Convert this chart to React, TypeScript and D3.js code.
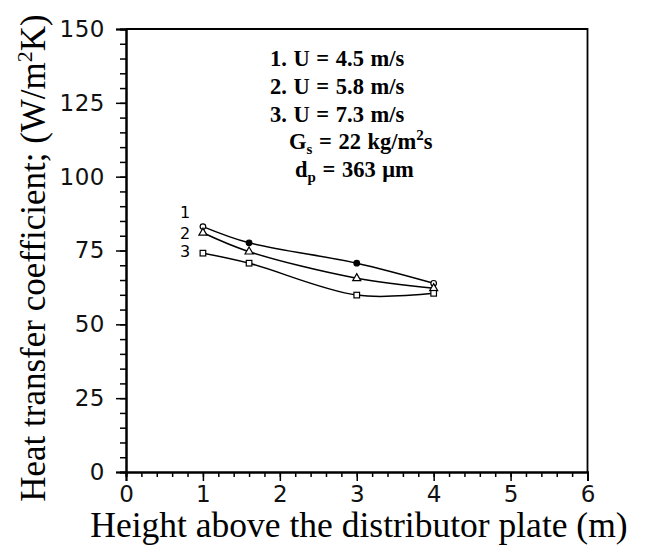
import React, { useEffect, useRef } from 'react';
import * as d3 from 'd3';

// heights above distributor plate (m)
const heights = [1, 1.6, 3, 4];
// heat transfer coefficient (W/m2K) per superficial velocity
const series1 = [83.1, 77.6, 70.7, 63.9];
const series2 = [81.0, 74.6, 65.6, 62.2];
const series3 = [74.1, 70.7, 59.9, 60.5];
const seriesNames = ['1', '2', '3'];
const markers = ['dot', 'triangle', 'square'];

const xTicks = [0, 1, 2, 3, 4, 5, 6];
const yTicks = [0, 25, 50, 75, 100, 125, 150];

const W = 645;
const H = 549;
const m = { left: 126, right: 57.5, top: 29, bottom: 77 };

const App = () => {
  const ref = useRef<SVGSVGElement>(null);

  useEffect(() => {
    const svg = d3.select(ref.current);
    svg.selectAll('*').remove();

    const x = d3.scaleLinear().domain([0, 6]).range([m.left, W - m.right]);
    const y = d3.scaleLinear().domain([0, 150]).range([H - m.bottom, m.top]);
    const sans = 'DejaVu Sans, sans-serif';
    const serif = 'Liberation Serif, Times New Roman, serif';

    // frame (top + right)
    svg.append('path')
      .attr('d', `M${x(0)},${y(150)}H${x(6)}V${y(0)}`)
      .attr('fill', 'none').attr('stroke', '#000').attr('stroke-width', 1.8);

    // x axis
    const gx = svg.append('g').attr('transform', `translate(0,${y(0)})`);
    gx.call(d3.axisBottom(x).tickValues(d3.range(0, 6.01, 0.2)).tickSize(5).tickFormat(() => ''));
    gx.selectAll('.tick line').attr('stroke-width', 1.5);
    const gx2 = svg.append('g').attr('transform', `translate(0,${y(0)})`);
    gx2.call(d3.axisBottom(x).tickValues(xTicks).tickSize(9).tickPadding(4).tickFormat(d3.format('d')));
    gx2.selectAll('.tick line').attr('stroke-width', 1.5);
    gx2.selectAll('.tick text').attr('font-family', sans).attr('font-size', 23).attr('fill', '#111')
      .attr('dy', '0.75em');
    [gx, gx2].forEach(g => g.select('.domain').attr('stroke-width', 2));

    // y axis
    const gy = svg.append('g').attr('transform', `translate(${x(0)},0)`);
    gy.call(d3.axisLeft(y).tickValues(d3.range(0, 150.1, 5)).tickSize(6).tickFormat(() => ''));
    gy.selectAll('.tick line').attr('stroke-width', 1.5);
    const gy2 = svg.append('g').attr('transform', `translate(${x(0)},0)`);
    gy2.call(d3.axisLeft(y).tickValues(yTicks).tickSize(10).tickPadding(11).tickFormat(d3.format('d')));
    gy2.selectAll('.tick line').attr('stroke-width', 1.5);
    gy2.selectAll('.tick text').attr('font-family', sans).attr('font-size', 23).attr('fill', '#111')
      .attr('letter-spacing', 0.5);
    [gy, gy2].forEach(g => g.select('.domain').attr('stroke-width', 2));

    // curves
    const all = [series1, series2, series3];
    const line = d3.line<number>()
      .x((_, i) => x(heights[i]))
      .y(d => y(d))
      .curve(d3.curveCatmullRom.alpha(0.5));

    all.forEach((s, k) => {
      svg.append('path').attr('d', line(s)!).attr('fill', 'none')
        .attr('stroke', '#000').attr('stroke-width', 1.5);
      const pts = svg.append('g');
      s.forEach((v, i) => {
        const cx = x(heights[i]);
        const cy = y(v);
        if (markers[k] === 'dot') {
          pts.append('circle').attr('cx', cx).attr('cy', cy).attr('r', 2.8)
            .attr('fill', i === 0 || i === s.length - 1 ? '#fff' : '#000')
            .attr('stroke', '#000').attr('stroke-width', 1.2);
        } else if (markers[k] === 'triangle') {
          pts.append('path')
            .attr('d', d3.symbol(d3.symbolTriangle, 28)()!)
            .attr('transform', `translate(${cx},${cy})`)
            .attr('fill', '#fff').attr('stroke', '#000').attr('stroke-width', 1.2);
        } else {
          pts.append('rect').attr('x', cx - 2.8).attr('y', cy - 2.8)
            .attr('width', 5.6).attr('height', 5.6)
            .attr('fill', '#fff').attr('stroke', '#000').attr('stroke-width', 1.2);
        }
      });
    });

    // series numbers
    const labelY = [212, 233, 251];
    seriesNames.forEach((n, k) => {
      svg.append('text').attr('x', 185).attr('y', labelY[k]).attr('dy', '0.35em')
        .attr('text-anchor', 'middle').attr('font-family', sans).attr('font-size', 16)
        .text(n);
    });

    // annotation
    const note = svg.append('g').attr('font-family', serif).attr('font-weight', 'bold')
      .attr('font-size', 22.5).attr('fill', '#000');
    note.append('text').attr('x', 270).attr('y', 66).attr('word-spacing', 1).text('1. U = 4.5 m/s');
    note.append('text').attr('x', 270).attr('y', 94).attr('word-spacing', 1).text('2. U = 5.8 m/s');
    note.append('text').attr('x', 270).attr('y', 122).attr('word-spacing', 1).text('3. U = 7.3 m/s');
    const g4 = note.append('text').attr('x', 289).attr('y', 149).attr('word-spacing', 1);
    g4.append('tspan').text('G');
    g4.append('tspan').attr('font-size', 15).attr('dy', 5).text('s');
    g4.append('tspan').attr('dy', -5).text(' = 22 kg/m');
    g4.append('tspan').attr('font-size', 15).attr('dy', -9).text('2');
    g4.append('tspan').attr('dy', 9).text('s');
    const g5 = note.append('text').attr('x', 295).attr('y', 177).attr('word-spacing', 1);
    g5.append('tspan').text('d');
    g5.append('tspan').attr('font-size', 15).attr('dy', 5).text('p');
    g5.append('tspan').attr('dy', -5).text(' = 363 \u03bcm');

    // axis titles
    svg.append('text').attr('x', 359).attr('y', 537).attr('text-anchor', 'middle')
      .attr('font-family', serif).attr('font-size', 35.5).text('Height above the distributor plate (m)');
    const yt = svg.append('text').attr('transform', `translate(45,258) rotate(-90)`)
      .attr('text-anchor', 'middle').attr('font-family', serif).attr('font-size', 35);
    yt.append('tspan').text('Heat transfer coefficient; (W/m');
    yt.append('tspan').attr('font-size', 22).attr('dy', -13).text('2');
    yt.append('tspan').attr('dy', 13).text('K)');
  }, []);

  return (
    <svg ref={ref} width={W} height={H}
      style={{ position: 'absolute', left: 0, top: 0, background: '#fff' }} />
  );
};

export default App;
